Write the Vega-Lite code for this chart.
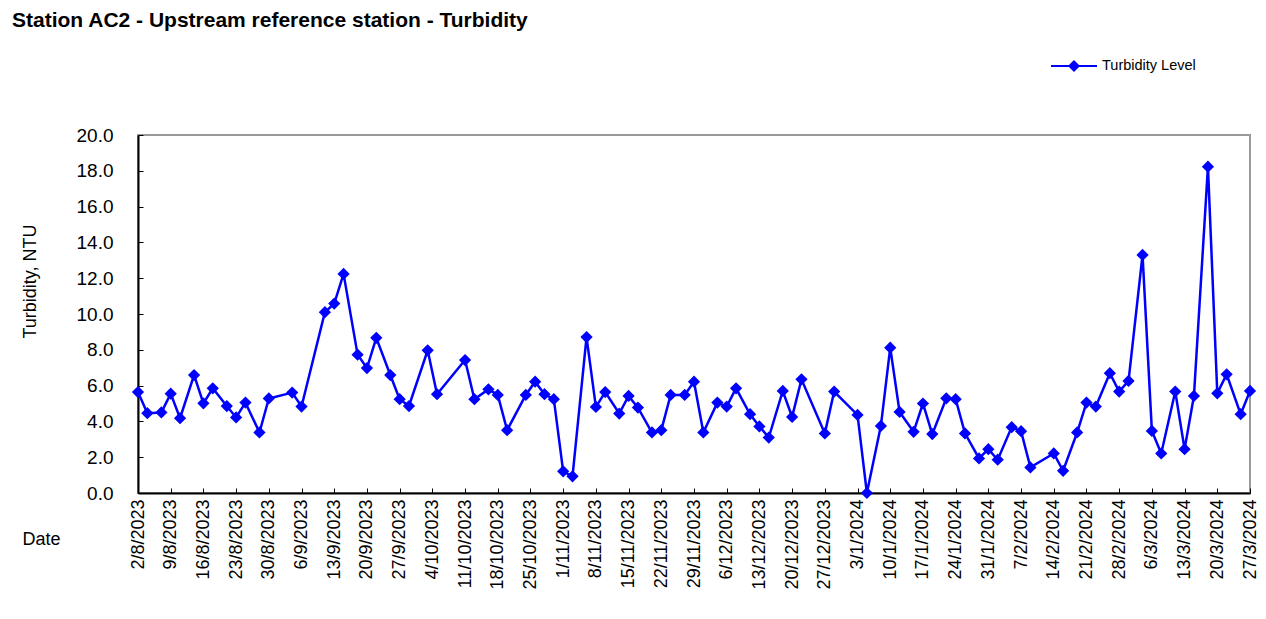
{
  "$schema": "https://vega.github.io/schema/vega-lite/v6.json",
  "width": 1112,
  "height": 358,
  "autosize": {"type": "none"},
  "padding": {"left": 138, "top": 135, "right": 16, "bottom": 126},
  "background": "white",
  "title": {
    "text": "Station AC2 - Upstream reference station - Turbidity",
    "anchor": "start",
    "frame": "group",
    "font": "Liberation Sans",
    "fontSize": 21,
    "fontWeight": "bold",
    "color": "#000000",
    "baseline": "alphabetic",
    "offset": 0,
    "dx": -126,
    "dy": 6
  },
  "config": {
    "view": {"stroke": "#999999", "strokeWidth": 2},
    "font": "Liberation Sans"
  },
  "data": {
    "values": [
      {"date": "2023-08-02", "turbidity": 5.64, "series": "Turbidity Level"},
      {"date": "2023-08-04", "turbidity": 4.46, "series": "Turbidity Level"},
      {"date": "2023-08-07", "turbidity": 4.5, "series": "Turbidity Level"},
      {"date": "2023-08-09", "turbidity": 5.55, "series": "Turbidity Level"},
      {"date": "2023-08-11", "turbidity": 4.18, "series": "Turbidity Level"},
      {"date": "2023-08-14", "turbidity": 6.59, "series": "Turbidity Level"},
      {"date": "2023-08-16", "turbidity": 5.01, "series": "Turbidity Level"},
      {"date": "2023-08-18", "turbidity": 5.85, "series": "Turbidity Level"},
      {"date": "2023-08-21", "turbidity": 4.86, "series": "Turbidity Level"},
      {"date": "2023-08-23", "turbidity": 4.22, "series": "Turbidity Level"},
      {"date": "2023-08-25", "turbidity": 5.05, "series": "Turbidity Level"},
      {"date": "2023-08-28", "turbidity": 3.38, "series": "Turbidity Level"},
      {"date": "2023-08-30", "turbidity": 5.28, "series": "Turbidity Level"},
      {"date": "2023-09-04", "turbidity": 5.61, "series": "Turbidity Level"},
      {"date": "2023-09-06", "turbidity": 4.83, "series": "Turbidity Level"},
      {"date": "2023-09-11", "turbidity": 10.1, "series": "Turbidity Level"},
      {"date": "2023-09-13", "turbidity": 10.58, "series": "Turbidity Level"},
      {"date": "2023-09-15", "turbidity": 12.24, "series": "Turbidity Level"},
      {"date": "2023-09-18", "turbidity": 7.73, "series": "Turbidity Level"},
      {"date": "2023-09-20", "turbidity": 6.98, "series": "Turbidity Level"},
      {"date": "2023-09-22", "turbidity": 8.67, "series": "Turbidity Level"},
      {"date": "2023-09-25", "turbidity": 6.59, "series": "Turbidity Level"},
      {"date": "2023-09-27", "turbidity": 5.24, "series": "Turbidity Level"},
      {"date": "2023-09-29", "turbidity": 4.86, "series": "Turbidity Level"},
      {"date": "2023-10-03", "turbidity": 7.97, "series": "Turbidity Level"},
      {"date": "2023-10-05", "turbidity": 5.52, "series": "Turbidity Level"},
      {"date": "2023-10-11", "turbidity": 7.43, "series": "Turbidity Level"},
      {"date": "2023-10-13", "turbidity": 5.24, "series": "Turbidity Level"},
      {"date": "2023-10-16", "turbidity": 5.79, "series": "Turbidity Level"},
      {"date": "2023-10-18", "turbidity": 5.48, "series": "Turbidity Level"},
      {"date": "2023-10-20", "turbidity": 3.51, "series": "Turbidity Level"},
      {"date": "2023-10-24", "turbidity": 5.48, "series": "Turbidity Level"},
      {"date": "2023-10-26", "turbidity": 6.22, "series": "Turbidity Level"},
      {"date": "2023-10-28", "turbidity": 5.52, "series": "Turbidity Level"},
      {"date": "2023-10-30", "turbidity": 5.24, "series": "Turbidity Level"},
      {"date": "2023-11-01", "turbidity": 1.21, "series": "Turbidity Level"},
      {"date": "2023-11-03", "turbidity": 0.93, "series": "Turbidity Level"},
      {"date": "2023-11-06", "turbidity": 8.71, "series": "Turbidity Level"},
      {"date": "2023-11-08", "turbidity": 4.81, "series": "Turbidity Level"},
      {"date": "2023-11-10", "turbidity": 5.64, "series": "Turbidity Level"},
      {"date": "2023-11-13", "turbidity": 4.44, "series": "Turbidity Level"},
      {"date": "2023-11-15", "turbidity": 5.42, "series": "Turbidity Level"},
      {"date": "2023-11-17", "turbidity": 4.77, "series": "Turbidity Level"},
      {"date": "2023-11-20", "turbidity": 3.38, "series": "Turbidity Level"},
      {"date": "2023-11-22", "turbidity": 3.51, "series": "Turbidity Level"},
      {"date": "2023-11-24", "turbidity": 5.48, "series": "Turbidity Level"},
      {"date": "2023-11-27", "turbidity": 5.48, "series": "Turbidity Level"},
      {"date": "2023-11-29", "turbidity": 6.22, "series": "Turbidity Level"},
      {"date": "2023-12-01", "turbidity": 3.38, "series": "Turbidity Level"},
      {"date": "2023-12-04", "turbidity": 5.05, "series": "Turbidity Level"},
      {"date": "2023-12-06", "turbidity": 4.83, "series": "Turbidity Level"},
      {"date": "2023-12-08", "turbidity": 5.85, "series": "Turbidity Level"},
      {"date": "2023-12-11", "turbidity": 4.4, "series": "Turbidity Level"},
      {"date": "2023-12-13", "turbidity": 3.72, "series": "Turbidity Level"},
      {"date": "2023-12-15", "turbidity": 3.1, "series": "Turbidity Level"},
      {"date": "2023-12-18", "turbidity": 5.7, "series": "Turbidity Level"},
      {"date": "2023-12-20", "turbidity": 4.25, "series": "Turbidity Level"},
      {"date": "2023-12-22", "turbidity": 6.35, "series": "Turbidity Level"},
      {"date": "2023-12-27", "turbidity": 3.33, "series": "Turbidity Level"},
      {"date": "2023-12-29", "turbidity": 5.67, "series": "Turbidity Level"},
      {"date": "2024-01-03", "turbidity": 4.36, "series": "Turbidity Level"},
      {"date": "2024-01-05", "turbidity": 0.0, "series": "Turbidity Level"},
      {"date": "2024-01-08", "turbidity": 3.75, "series": "Turbidity Level"},
      {"date": "2024-01-10", "turbidity": 8.12, "series": "Turbidity Level"},
      {"date": "2024-01-12", "turbidity": 4.53, "series": "Turbidity Level"},
      {"date": "2024-01-15", "turbidity": 3.42, "series": "Turbidity Level"},
      {"date": "2024-01-17", "turbidity": 5.0, "series": "Turbidity Level"},
      {"date": "2024-01-19", "turbidity": 3.29, "series": "Turbidity Level"},
      {"date": "2024-01-22", "turbidity": 5.29, "series": "Turbidity Level"},
      {"date": "2024-01-24", "turbidity": 5.24, "series": "Turbidity Level"},
      {"date": "2024-01-26", "turbidity": 3.33, "series": "Turbidity Level"},
      {"date": "2024-01-29", "turbidity": 1.93, "series": "Turbidity Level"},
      {"date": "2024-01-31", "turbidity": 2.45, "series": "Turbidity Level"},
      {"date": "2024-02-02", "turbidity": 1.86, "series": "Turbidity Level"},
      {"date": "2024-02-05", "turbidity": 3.68, "series": "Turbidity Level"},
      {"date": "2024-02-07", "turbidity": 3.45, "series": "Turbidity Level"},
      {"date": "2024-02-09", "turbidity": 1.43, "series": "Turbidity Level"},
      {"date": "2024-02-14", "turbidity": 2.21, "series": "Turbidity Level"},
      {"date": "2024-02-16", "turbidity": 1.24, "series": "Turbidity Level"},
      {"date": "2024-02-19", "turbidity": 3.38, "series": "Turbidity Level"},
      {"date": "2024-02-21", "turbidity": 5.05, "series": "Turbidity Level"},
      {"date": "2024-02-23", "turbidity": 4.83, "series": "Turbidity Level"},
      {"date": "2024-02-26", "turbidity": 6.69, "series": "Turbidity Level"},
      {"date": "2024-02-28", "turbidity": 5.67, "series": "Turbidity Level"},
      {"date": "2024-03-01", "turbidity": 6.26, "series": "Turbidity Level"},
      {"date": "2024-03-04", "turbidity": 13.3, "series": "Turbidity Level"},
      {"date": "2024-03-06", "turbidity": 3.47, "series": "Turbidity Level"},
      {"date": "2024-03-08", "turbidity": 2.21, "series": "Turbidity Level"},
      {"date": "2024-03-11", "turbidity": 5.67, "series": "Turbidity Level"},
      {"date": "2024-03-13", "turbidity": 2.45, "series": "Turbidity Level"},
      {"date": "2024-03-15", "turbidity": 5.42, "series": "Turbidity Level"},
      {"date": "2024-03-18", "turbidity": 18.23, "series": "Turbidity Level"},
      {"date": "2024-03-20", "turbidity": 5.57, "series": "Turbidity Level"},
      {"date": "2024-03-22", "turbidity": 6.63, "series": "Turbidity Level"},
      {"date": "2024-03-25", "turbidity": 4.4, "series": "Turbidity Level"},
      {"date": "2024-03-27", "turbidity": 5.7, "series": "Turbidity Level"}
    ]
  },
  "mark": {
    "type": "line",
    "strokeWidth": 2.5,
    "clip": false,
    "point": {"shape": "diamond", "filled": true, "size": 150, "opacity": 1}
  },
  "encoding": {
    "x": {
      "field": "date",
      "type": "temporal",
      "scale": {
        "type": "utc",
        "domain": [
          {"year": 2023, "month": 8, "date": 2, "utc": true},
          {"year": 2024, "month": 3, "date": 27, "utc": true}
        ],
        "nice": false
      },
      "axis": {
        "values": [
          {"year": 2023, "month": 8, "date": 2, "utc": true},
          {"year": 2023, "month": 8, "date": 9, "utc": true},
          {"year": 2023, "month": 8, "date": 16, "utc": true},
          {"year": 2023, "month": 8, "date": 23, "utc": true},
          {"year": 2023, "month": 8, "date": 30, "utc": true},
          {"year": 2023, "month": 9, "date": 6, "utc": true},
          {"year": 2023, "month": 9, "date": 13, "utc": true},
          {"year": 2023, "month": 9, "date": 20, "utc": true},
          {"year": 2023, "month": 9, "date": 27, "utc": true},
          {"year": 2023, "month": 10, "date": 4, "utc": true},
          {"year": 2023, "month": 10, "date": 11, "utc": true},
          {"year": 2023, "month": 10, "date": 18, "utc": true},
          {"year": 2023, "month": 10, "date": 25, "utc": true},
          {"year": 2023, "month": 11, "date": 1, "utc": true},
          {"year": 2023, "month": 11, "date": 8, "utc": true},
          {"year": 2023, "month": 11, "date": 15, "utc": true},
          {"year": 2023, "month": 11, "date": 22, "utc": true},
          {"year": 2023, "month": 11, "date": 29, "utc": true},
          {"year": 2023, "month": 12, "date": 6, "utc": true},
          {"year": 2023, "month": 12, "date": 13, "utc": true},
          {"year": 2023, "month": 12, "date": 20, "utc": true},
          {"year": 2023, "month": 12, "date": 27, "utc": true},
          {"year": 2024, "month": 1, "date": 3, "utc": true},
          {"year": 2024, "month": 1, "date": 10, "utc": true},
          {"year": 2024, "month": 1, "date": 17, "utc": true},
          {"year": 2024, "month": 1, "date": 24, "utc": true},
          {"year": 2024, "month": 1, "date": 31, "utc": true},
          {"year": 2024, "month": 2, "date": 7, "utc": true},
          {"year": 2024, "month": 2, "date": 14, "utc": true},
          {"year": 2024, "month": 2, "date": 21, "utc": true},
          {"year": 2024, "month": 2, "date": 28, "utc": true},
          {"year": 2024, "month": 3, "date": 6, "utc": true},
          {"year": 2024, "month": 3, "date": 13, "utc": true},
          {"year": 2024, "month": 3, "date": 20, "utc": true},
          {"year": 2024, "month": 3, "date": 27, "utc": true}
        ],
        "format": "%-d/%-m/%Y",
        "labelAngle": -90,
        "labelFontSize": 18,
        "labelColor": "#000000",
        "labelPadding": 11,
        "labelOverlap": false,
        "labelFlush": false,
        "grid": false,
        "tickSize": -5,
        "tickColor": "#000000",
        "domainColor": "#000000",
        "domainWidth": 2,
        "title": "Date",
        "titleFontSize": 18,
        "titleFontWeight": "normal",
        "titleColor": "#000000",
        "titleAlign": "center",
        "titleBaseline": "middle",
        "titleX": -97,
        "titleY": 46
      }
    },
    "y": {
      "field": "turbidity",
      "type": "quantitative",
      "scale": {"domain": [0, 20], "nice": false},
      "axis": {
        "values": [0, 2, 4, 6, 8, 10, 12, 14, 16, 18, 20],
        "format": ".1f",
        "labelFontSize": 19,
        "labelColor": "#000000",
        "labelPadding": 30,
        "grid": false,
        "tickSize": -5,
        "tickColor": "#000000",
        "domainColor": "#000000",
        "domainWidth": 2,
        "title": "Turbidity, NTU",
        "titleFontSize": 18,
        "titleFontWeight": "normal",
        "titleColor": "#000000",
        "titleAngle": -90,
        "titleAlign": "center",
        "titleBaseline": "middle",
        "titleX": -108,
        "titleY": 146
      }
    },
    "color": {
      "field": "series",
      "type": "nominal",
      "scale": {"range": ["#0000ff"]},
      "legend": {
        "title": null,
        "orient": "none",
        "legendX": 912,
        "legendY": -93,
        "symbolType": "M-1,0L1,0M0,-0.2L0.2,0L0,0.2L-0.2,0Z",
        "symbolSize": 2116,
        "symbolStrokeWidth": 2,
        "symbolFillColor": "#0000ff",
        "labelFontSize": 14.5,
        "labelColor": "#000000",
        "labelOffset": 4,
        "encode": {"symbols": {"update": {"fill": {"value": "#0000ff"}, "stroke": {"value": "#0000ff"}}}}
      }
    }
  }
}
